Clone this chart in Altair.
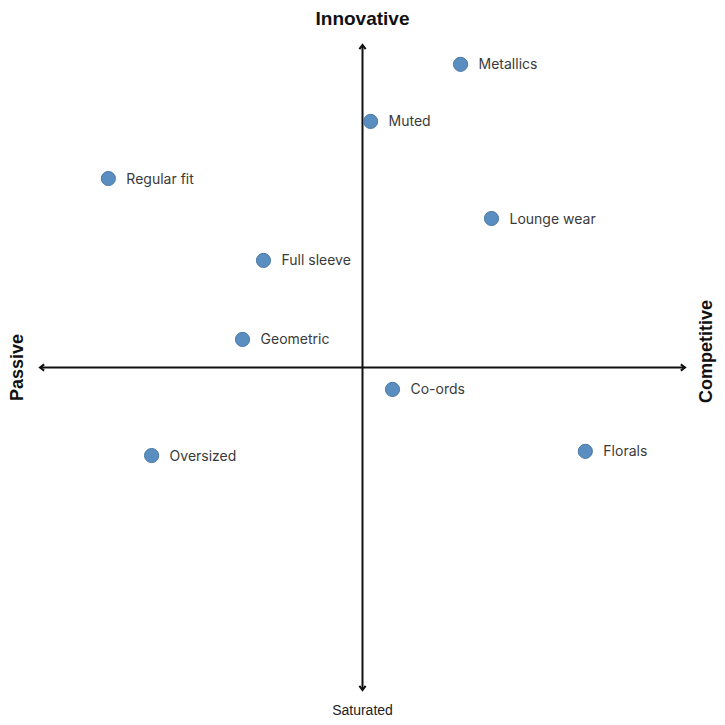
import altair as alt
import pandas as pd

# Data (perceptual map coordinates, axis range -10..10)
names = ["Metallics", "Muted", "Regular fit", "Lounge wear", "Full sleeve",
         "Geometric", "Co-ords", "Oversized", "Florals"]
xs = [3.04, 0.25, -7.88, 4.0, -3.07, -3.72, 0.93, -6.54, 6.91]
ys = [9.4, 7.63, 5.86, 4.62, 3.32, 0.87, -0.68, -2.73, -2.60]

axis_titles = ["Innovative", "Saturated", "Passive", "Competitive"]
title_x = [0, 0, -10.68, 10.68]
title_y = [10.80, -10.64, 0.0, 0.50]

pts = pd.DataFrame({"name": names, "x": xs, "y": ys})

W = 645
H = 645
dom = [-10, 10]
xsc = alt.Scale(domain=dom, nice=False, zero=False)
ysc = alt.Scale(domain=dom, nice=False, zero=False)

hline = alt.Chart(pd.DataFrame({"x": [-10], "x2": [10], "y": [0]})).mark_rule(
    color="#111", strokeWidth=2, clip=False
).encode(
    x=alt.X("x:Q", scale=xsc, axis=None),
    x2="x2:Q",
    y=alt.Y("y:Q", scale=ysc, axis=None),
)
vline = alt.Chart(pd.DataFrame({"x": [0], "y": [-10], "y2": [10]})).mark_rule(
    color="#111", strokeWidth=2, clip=False
).encode(
    x=alt.X("x:Q", scale=xsc, axis=None),
    y=alt.Y("y:Q", scale=ysc, axis=None),
    y2="y2:Q",
)

arrows = pd.DataFrame({"x": [10, -10, 0, 0], "y": [0, 0, 10, -10], "ang": [0, 180, 270, 90]})
arrow_marks = alt.Chart(arrows).mark_point(
    shape="M-1,-0.75L0,0L-1,0.75", filled=False, stroke="#111", strokeWidth=2,
    size=70, opacity=1, clip=False
).encode(
    x=alt.X("x:Q", scale=xsc, axis=None),
    y=alt.Y("y:Q", scale=ysc, axis=None),
    angle=alt.Angle("ang:Q", scale=None),
)

points = alt.Chart(pts).mark_circle(
    size=200, color="#5b8ec0", stroke="#4677a3", strokeWidth=1, opacity=1
).encode(
    x=alt.X("x:Q", scale=xsc, axis=None),
    y=alt.Y("y:Q", scale=ysc, axis=None),
)

labels = alt.Chart(pts).mark_text(
    align="left", baseline="middle", dx=18, dy=1, font="Inter", fontSize=14,
    color="#3a3a3a"
).encode(
    x=alt.X("x:Q", scale=xsc, axis=None),
    y=alt.Y("y:Q", scale=ysc, axis=None),
    text="name:N",
)

tdf = pd.DataFrame({"t": axis_titles, "x": title_x, "y": title_y})

top_t = alt.Chart(tdf.iloc[[0]]).mark_text(
    font="Liberation Sans", fontSize=19, fontWeight="bold", color="#111",
    baseline="middle", align="center", clip=False
).encode(x=alt.X("x:Q", scale=xsc, axis=None), y=alt.Y("y:Q", scale=ysc, axis=None), text="t:N")

bot_t = alt.Chart(tdf.iloc[[1]]).mark_text(
    font="Liberation Sans", fontSize=14, color="#222",
    baseline="middle", align="center", clip=False
).encode(x=alt.X("x:Q", scale=xsc, axis=None), y=alt.Y("y:Q", scale=ysc, axis=None), text="t:N")

side_t = alt.Chart(tdf.iloc[[2, 3]]).mark_text(
    font="Liberation Sans", fontSize=18, fontWeight="bold", color="#111",
    baseline="middle", align="center", angle=270, clip=False
).encode(x=alt.X("x:Q", scale=xsc, axis=None), y=alt.Y("y:Q", scale=ysc, axis=None), text="t:N")

chart = alt.layer(hline, vline, arrow_marks, points, labels, top_t, bot_t, side_t).properties(
    width=W, height=H,
    background="white",
    autosize=alt.AutoSizeParams(type="none"),
    padding={"left": 32, "top": 37, "right": 32, "bottom": 27},
).configure_view(strokeWidth=0, stroke=None)

chart.save("out.html", embed_options={"renderer": "svg", "actions": False})
